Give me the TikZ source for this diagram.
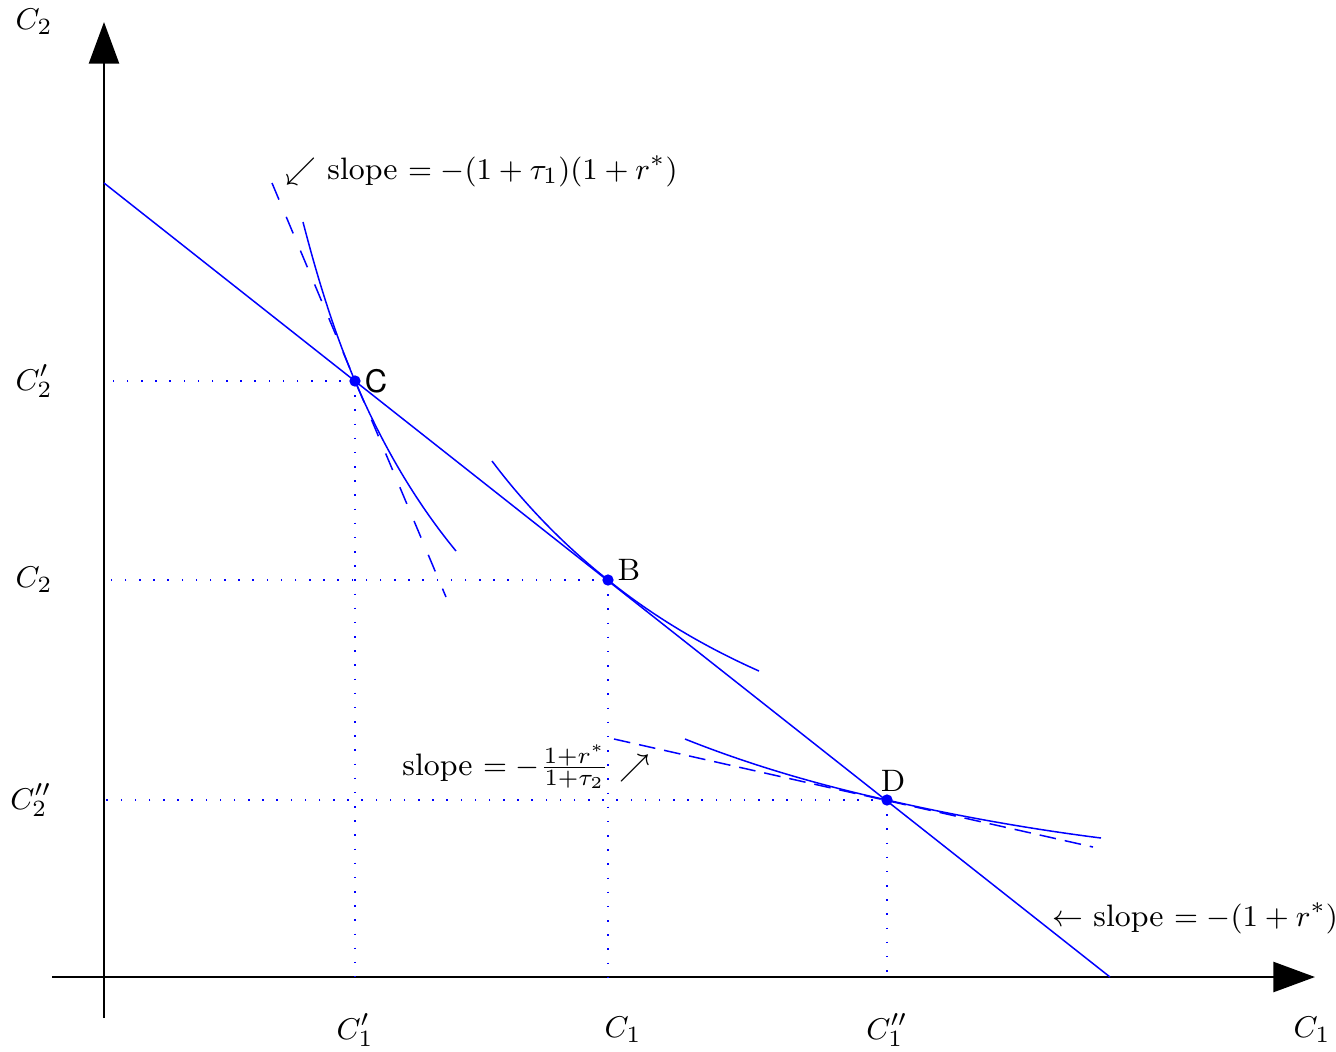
\documentclass[tikz,border=0pt]{standalone}
\usepackage{fontspec}
\newfontfamily\helv{TeX Gyre Heros}
\usetikzlibrary{arrows.meta}
\begin{document}
\begin{tikzpicture}[x=0.3pt,y=-0.3pt,
  axis/.style={line width=0.75pt,-{Triangle[length=12.5pt,width=9pt]}},
  bline/.style={blue,line width=0.45pt},
  dotline/.style={blue,line width=0.5pt,dash pattern=on 0.45pt off 3.8pt},
  dashC/.style={blue,line width=0.45pt,dash pattern=on 5.4pt off 5.6pt},
  dashD/.style={blue,line width=0.45pt,dash pattern=on 5pt off 2.7pt},
  pt/.style={circle,fill=blue,inner sep=0pt,minimum size=3.4pt},
  lab/.style={inner sep=1pt,font=\fontsize{9.3pt}{11pt}\selectfont}]
\useasboundingbox (0,0) rectangle (1336,1051);
% axes
\coordinate (O) at (104,977);
\coordinate (yb) at (104,1018);
\coordinate (yt) at (104,22);
\coordinate (xl) at (52,977);
\coordinate (xr) at (1315,977);
\draw[axis] (yb) -- (yt);
\draw[axis] (xl) -- (xr);
% points
\coordinate (C) at (355,381);
\coordinate (B) at (608,580);
\coordinate (D) at (887,800);
% dotted guides
\draw[dotline] (C) -- (C -| O);
\draw[dotline] (C) -- (C |- O);
\draw[dotline] (B) -- (B -| O);
\draw[dotline] (B) -- (B |- O);
\draw[dotline] (D) -- (D -| O);
\draw[dotline] (D) -- (D |- O);
% budget line
\coordinate (bl1) at (104,183);
\coordinate (bl2) at (1110,977);
\draw[bline] (bl1) -- (bl2);
% tangent dashed lines
\coordinate (tc1) at (272,183);
\coordinate (tc2) at (446,597);
\draw[dashC] (tc1) -- (tc2);
\coordinate (td1) at (614,739);
\coordinate (td2) at (1093,847);
\draw[dashD] (td1) -- (td2);
% indifference curves
\coordinate (ic1) at (303,222);
\coordinate (ic2) at (456,551);
\draw[bline] (ic1) .. controls (317,276) and (333,329) .. (C)
  .. controls (381,442) and (414,500) .. (ic2);
\coordinate (ib1) at (492,461);
\coordinate (ib2) at (759,671);
\draw[bline] (ib1) .. controls (525,505) and (565,546) .. (B)
  .. controls (654,617) and (705,647) .. (ib2);
\coordinate (id1) at (685,739);
\coordinate (id2) at (1101,838);
\draw[bline] (id1) .. controls (750,765) and (819,785) .. (D)
  .. controls (957,816) and (1030,829) .. (id2);
% dots
\node[pt] (pC) at (C) {};
\node[pt] (pB) at (B) {};
\node[pt] (pD) at (D) {};
\node[lab] (lC) at (376,381) {\helv C};
\node[lab] (lB) at (629,570) {B};
\node[lab] (lD) at (893,781) {D};
% axis labels
\node[lab] (y0) at (34,22) {$C_2$};
\node[lab] (y1) at (34,381) {$C_2'$};
\node[lab] (y2) at (34,580) {$C_2$};
\node[lab] (y3) at (31,800) {$C_2''$};
\node[lab] (x1) at (355,1030) {$C_1'$};
\node[lab] (x2) at (623,1030) {$C_1$};
\node[lab] (x3) at (887,1030) {$C_1''$};
\node[lab] (x0) at (1312,1030) {$C_1$};
% slope labels
\node[lab,anchor=west] (s1) at (282,171) {$\swarrow$ slope $= -(1+\tau_1)(1+r^*)$};
\node[lab,anchor=west] (s2) at (1048,918) {$\leftarrow$ slope $= -(1+r^*)$};
\node[lab,anchor=east] (s3) at (654,767) {slope $= -\frac{1+r^*}{1+\tau_2}$ $\nearrow$};
\end{tikzpicture}
\end{document}
